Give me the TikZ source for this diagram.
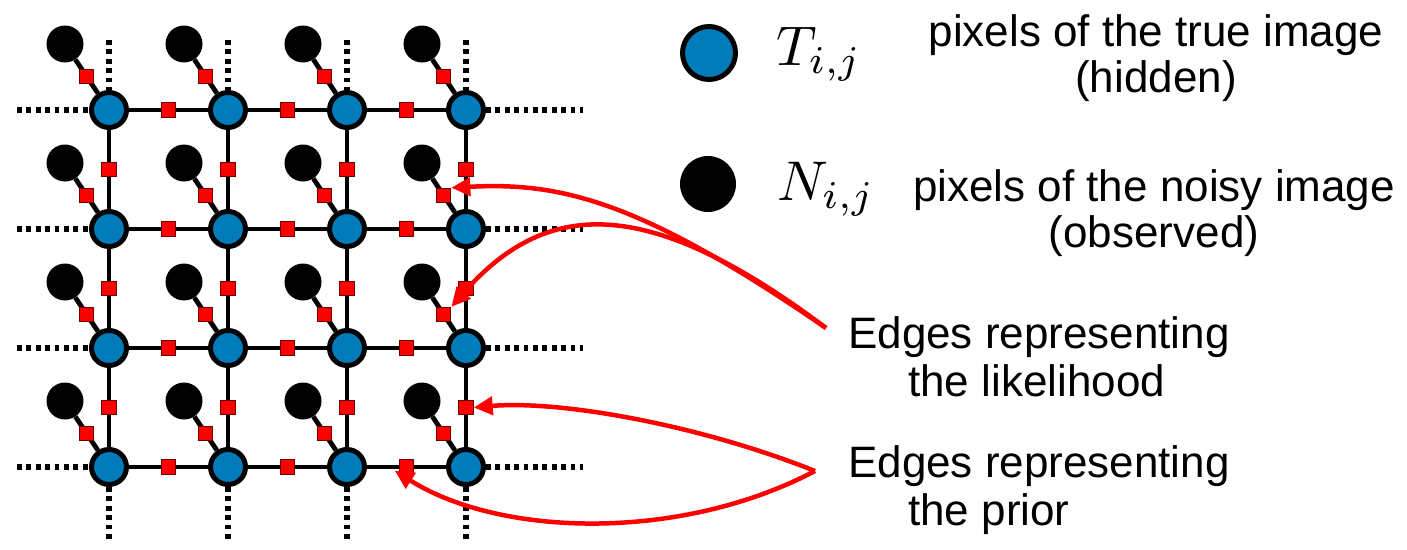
\documentclass[tikz,border=0pt]{standalone}
\usepackage{graphicx}
\usepackage{fontspec}
\setmainfont{Liberation Sans}
\usetikzlibrary{arrows.meta,backgrounds}
\definecolor{tblue}{RGB}{0,124,186}
\definecolor{sqborder}{RGB}{110,0,0}
\begin{document}
\begin{tikzpicture}[x=1pt,y=-1pt,
  truenode/.style={circle,fill=tblue,draw=black,line width=5pt,minimum size=35pt,inner sep=0pt},
  noisynode/.style={circle,fill=black,minimum size=37pt,inner sep=0pt},
  factor/.style={rectangle,fill=red,draw=sqborder,line width=0.9pt,minimum size=14.5pt,inner sep=0pt},
  edge/.style={line width=4.8pt,black},
  dotline/.style={line width=5.2pt,dash pattern=on 4.8pt off 4.6pt},
  callout/.style={draw=red,line width=4.5pt,-{Triangle[length=19pt,width=18pt]}},
  txt/.style={font=\fontsize{44}{46}\selectfont,inner sep=0pt},
  txtb/.style={font=\fontsize{44}{48}\selectfont,inner sep=0pt},
  mathtxt/.style={inner sep=0pt,anchor=base west}
]
\useasboundingbox (0,0) rectangle (1407,549);

% grid nodes
\foreach \c/\x in {1/109,2/228,3/347,4/466}{
  \foreach \r/\y in {1/110,2/229,3/348,4/467}{
    \node[truenode] (t\r\c) at (\x,\y) {};
    \node[noisynode] (n\r\c) at (\x-44,\y-66) {};
  }
}
% free ends of the dotted lines
\foreach \r/\y in {1/110,2/229,3/348,4/467}{
  \coordinate (l\r) at (17,\y);
  \coordinate (r\r) at (583,\y);
}
\foreach \c/\x in {1/109,2/228,3/347,4/466}{
  \coordinate (u\c) at (\x,40);
  \coordinate (b\c) at (\x,540);
}

\begin{scope}[on background layer]
  \foreach \r in {1,...,4}{
    \foreach \c in {1,...,3}{
      \pgfmathtruncatemacro\cn{\c+1}
      \draw[edge] (t\r\c) -- node[factor] (h\r\c) {} (t\r\cn);
    }
  }
  \foreach \r in {1,...,3}{
    \pgfmathtruncatemacro\rn{\r+1}
    \foreach \c in {1,...,4}{
      \draw[edge] (t\r\c) -- node[factor] (v\r\c) {} (t\rn\c);
    }
  }
  \foreach \r in {1,...,4}{
    \foreach \c in {1,...,4}{
      \draw[edge] (n\r\c) -- node[factor] (d\r\c) {} (t\r\c);
    }
    \draw[dotline] (l\r) -- (t\r1);
    \draw[dotline] (t\r4) -- (r\r);
  }
  \foreach \c in {1,...,4}{
    \draw[dotline] (u\c) -- (t1\c);
    \draw[dotline] (t4\c) -- (b\c);
  }
\end{scope}

% legend
\node[truenode,minimum size=53pt] (legT) at (709,53) {};
\node[noisynode,minimum size=56pt] (legN) at (708,184) {};
\node[mathtxt] (symT) at (776,65) {\scalebox{5.6}{$T_{i,j}$}};
\node[mathtxt] (symN) at (777,200) {\scalebox{5.6}{$N_{i,j}$}};
\node[txt,align=center,anchor=base] (descT) at (1156,92) {pixels of the true image\\(hidden)};
\node[txt,align=center,anchor=base] (descN) at (1154,247) {pixels of the noisy image\\(observed)};

% callout labels
\node[txtb,align=left,anchor=base west] (lik) at (848,396) {Edges representing\\\hspace*{60pt}the likelihood};
\node[txtb,align=left,anchor=base west] (pri) at (848,525) {Edges representing\\\hspace*{60pt}the prior};
\coordinate (likstart) at (826,328);
\coordinate (pristart) at (815,471);

% callout arrows
\draw[callout] (likstart) .. controls (640,200) and (560,182) .. (d24.north east);
\draw[callout] (likstart) .. controls (645,192) and (545,200) .. (d34.north east);
\draw[callout] (pristart) .. controls (700,425) and (560,400) .. (v34.east);
\draw[callout] (pristart) .. controls (680,542) and (500,537) .. ([xshift=-4pt,yshift=4pt]h43.south west);
\end{tikzpicture}
\end{document}
